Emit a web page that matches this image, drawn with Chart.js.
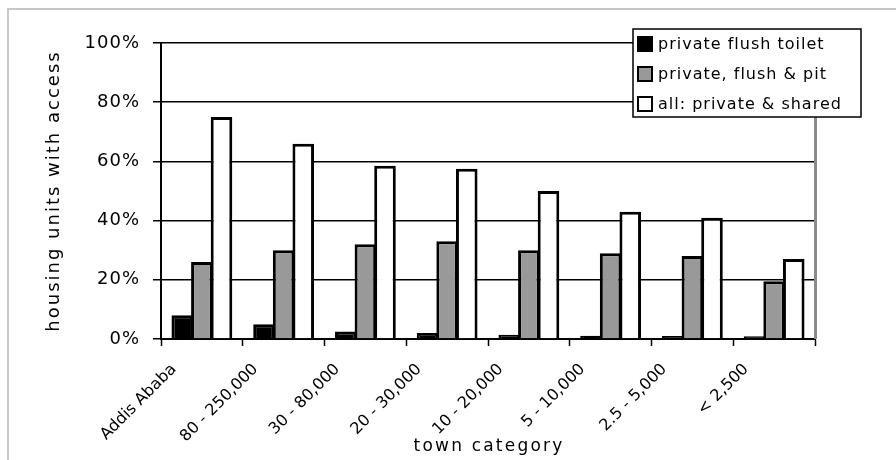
<!DOCTYPE html>
<html>
<head>
<meta charset="utf-8">
<script src="https://cdn.jsdelivr.net/npm/chart.js@4/dist/chart.umd.min.js"></script>
<style>
  html, body { margin: 0; padding: 0; background: #ffffff; }
  canvas { display: block; }
</style>
</head>
<body>
<canvas id="chart" width="896" height="460"></canvas>
<script>
// Access to sanitation by town category (share of housing units)
const townCategories = ['Addis Ababa', '80 - 250,000', '30 - 80,000', '20 - 30,000',
                        '10 - 20,000', '5 - 10,000', '2.5 - 5,000', '< 2,500'];
const privateFlushToilet = [8, 5, 2.5, 2, 1.4, 1.1, 1, 0.9];
const privateFlushAndPit = [26, 30, 32, 33, 30, 29, 28, 19.5];
const allPrivateAndShared = [75, 66, 58.5, 57.5, 50, 43, 41, 27];
const percentTicks = [0, 20, 40, 60, 80, 100];
const seriesNames = ['private flush toilet', 'private, flush & pit', 'all: private & shared'];
const yAxisTitle = 'housing units with access';
const xAxisTitle = 'town category';

const FONT = '"DejaVu Sans", Arial, sans-serif';

// Page frame, plot-area edge, spaced lettering, axis titles and the boxed legend
const decorations = {
  id: 'decorations',
  beforeDraw(chart) {
    const ctx = chart.ctx;
    ctx.save();
    ctx.strokeStyle = '#c8c8c8';
    ctx.lineWidth = 2;
    ctx.beginPath();
    ctx.moveTo(8, chart.height);
    ctx.lineTo(8, 9);
    ctx.lineTo(chart.width, 9);
    ctx.stroke();
    ctx.restore();
    ctx.letterSpacing = '0px';          // category labels
  },
  beforeDatasetsDraw(chart) {
    const { ctx, chartArea: a } = chart;
    ctx.save();
    ctx.strokeStyle = '#8c8c8c';
    ctx.lineWidth = 3;
    ctx.beginPath();
    ctx.moveTo(a.right + 0.5, a.top);
    ctx.lineTo(a.right + 0.5, a.bottom);
    ctx.stroke();
    ctx.restore();
  },
  afterDatasetsDraw(chart) {
    chart.ctx.letterSpacing = '1px';    // percentage labels
  },
  afterDraw(chart) {
    const { ctx, chartArea: a } = chart;
    ctx.save();
    ctx.fillStyle = '#000';
    ctx.textBaseline = 'middle';

    // y axis title
    ctx.save();
    ctx.letterSpacing = '2px';
    ctx.font = '18px ' + FONT;
    ctx.textAlign = 'center';
    ctx.translate(54, (a.top + a.bottom) / 2);
    ctx.rotate(-Math.PI / 2);
    ctx.fillText(yAxisTitle, 0, 0);
    ctx.restore();

    // x axis title
    ctx.save();
    ctx.letterSpacing = '2.2px';
    ctx.font = '17px ' + FONT;
    ctx.textAlign = 'center';
    ctx.fillText(xAxisTitle, (a.left + a.right) / 2 + 1, 447);
    ctx.restore();

    // legend box
    const lx = a.right - 182, ly = a.top - 14, lw = 228, lh = 88;
    ctx.fillStyle = '#ffffff';
    ctx.fillRect(lx, ly, lw, lh);
    ctx.strokeStyle = '#000';
    ctx.lineWidth = 1.5;
    ctx.strokeRect(lx, ly, lw, lh);
    ctx.letterSpacing = '1px';
    ctx.font = '16px ' + FONT;
    ctx.textAlign = 'left';
    chart.data.datasets.forEach((ds, i) => {
      const cy = ly + 15 + i * 30;
      ctx.fillStyle = ds.backgroundColor;
      ctx.fillRect(lx + 5, cy - 7, 14, 14);
      ctx.strokeStyle = '#000';
      ctx.lineWidth = 2;
      ctx.strokeRect(lx + 5, cy - 7, 14, 14);
      ctx.fillStyle = '#000';
      ctx.fillText(ds.label, lx + 25, cy + 1);
    });
    ctx.restore();
    ctx.letterSpacing = '0px';
  }
};

const barStyle = { borderColor: '#000000', borderWidth: 3, borderSkipped: 'start' };

new Chart(document.getElementById('chart'), {
  type: 'bar',
  data: {
    labels: townCategories,
    datasets: [
      { label: seriesNames[0], data: privateFlushToilet, backgroundColor: '#000000', ...barStyle },
      { label: seriesNames[1], data: privateFlushAndPit, backgroundColor: '#999999', ...barStyle },
      { label: seriesNames[2], data: allPrivateAndShared, backgroundColor: '#ffffff', ...barStyle }
    ]
  },
  options: {
    responsive: false,
    animation: false,
    devicePixelRatio: 1,
    layout: { padding: { top: 43, right: 81, left: 0, bottom: 0 } },
    datasets: { bar: { categoryPercentage: 0.72, barPercentage: 1.1 } },
    plugins: { legend: { display: false }, tooltip: { enabled: false } },
    scales: {
      x: {
        offset: true,
        grid: { offset: true, drawOnChartArea: false, drawTicks: true, tickLength: 7,
                tickColor: '#000', tickWidth: 1.5 },
        border: { color: '#000', width: 2 },
        ticks: {
          autoSkip: false, minRotation: 45, maxRotation: 45,
          labelOffset: -28, padding: 14, color: '#000',
          font: { family: FONT, size: 16 }
        },
        afterFit(scale) { scale.height = 121; }
      },
      y: {
        min: 0, max: 100,
        afterBuildTicks(scale) { scale.ticks = percentTicks.map(v => ({ value: v })); },
        grid: { color: '#000', lineWidth: 1.5, drawTicks: true, tickLength: 8,
                tickColor: '#000', tickWidth: 1.5 },
        border: { color: '#000', width: 2 },
        ticks: {
          z: 1, padding: 13, color: '#000',
          font: { family: FONT, size: 18 },
          callback: v => v + '%'
        },
        afterFit(scale) { scale.width = 161; }
      }
    }
  },
  plugins: [decorations]
});
</script>
</body>
</html>
